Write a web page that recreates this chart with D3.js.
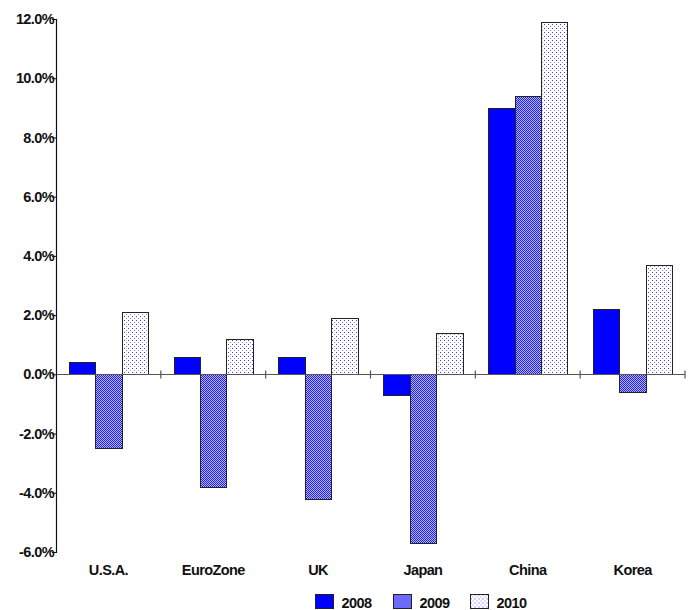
<!DOCTYPE html>
<html>
<head>
<meta charset="utf-8">
<script src="https://cdn.jsdelivr.net/npm/d3@7"></script>
<style>
  html, body { margin: 0; padding: 0; background: #fff; }
  svg text { font-family: "Liberation Sans", Arial, sans-serif; font-weight: bold; letter-spacing: -0.6px; fill: #111; }
</style>
</head>
<body>
<svg id="chart" width="699" height="610"></svg>
<script>
// GDP growth by economy, 2008–2010 (%)
const categories = ["U.S.A.", "EuroZone", "UK", "Japan", "China", "Korea"];
const years = ["2008", "2009", "2010"];
const growth2008 = [0.4, 0.6, 0.6, -0.7, 9.0, 2.2];
const growth2009 = [-2.5, -3.8, -4.2, -5.7, 9.4, -0.6];
const growth2010 = [2.1, 1.2, 1.9, 1.4, 11.9, 3.7];
const yTicks = [12, 10, 8, 6, 4, 2, 0, -2, -4, -6];

const series = [growth2008, growth2009, growth2010];
const rows = categories.map((c, i) => ({ cat: c, vals: years.map((y, j) => ({ year: y, v: series[j][i] })) }));

const svg = d3.select("#chart");
const left = 56, right = 685;

// patterns for the three series
const defs = svg.append("defs");
const p09 = defs.append("pattern").attr("id", "p2009").attr("patternUnits", "userSpaceOnUse")
  .attr("width", 2).attr("height", 2);
p09.append("rect").attr("width", 2).attr("height", 2).attr("fill", "#b4b4ff");
p09.append("rect").attr("width", 1).attr("height", 1).attr("fill", "#2020ff");
p09.append("rect").attr("x", 1).attr("y", 1).attr("width", 1).attr("height", 1).attr("fill", "#2020ff");

const p10 = defs.append("pattern").attr("id", "p2010").attr("patternUnits", "userSpaceOnUse")
  .attr("width", 4).attr("height", 4);
p10.append("rect").attr("width", 4).attr("height", 4).attr("fill", "#fff");
p10.append("rect").attr("x", 0).attr("y", 0).attr("width", 1).attr("height", 1).attr("fill", "#3a3aff");
p10.append("rect").attr("x", 2).attr("y", 2).attr("width", 1).attr("height", 1).attr("fill", "#8a8aff");

const fills = { "2008": "#0000ff", "2009": "url(#p2009)", "2010": "url(#p2010)" };

const x0 = d3.scaleBand().domain(categories).range([left, right]).paddingInner(0).paddingOuter(0);
const x1 = d3.scaleBand().domain(years).range([0, x0.bandwidth()]).paddingInner(0).paddingOuter(0.48);
const y = d3.scaleLinear().domain([-6, 12]).range([552, 19]);

// bars
const g = svg.append("g").attr("shape-rendering", "crispEdges");
const groups = g.selectAll("g.cat").data(rows).join("g").attr("class", "cat");

groups.selectAll("rect").data(d => d.vals.map(v => ({ ...v, cat: d.cat }))).join("rect")
  .attr("x", d => Math.round(x0(d.cat) + x1(d.year)) + 0.5)
  .attr("y", d => Math.round(y(Math.max(0, d.v))) + 0.5)
  .attr("width", d => Math.round(x0(d.cat) + x1(d.year) + x1.bandwidth()) - Math.round(x0(d.cat) + x1(d.year)))
  .attr("height", d => Math.abs(Math.round(y(d.v)) - Math.round(y(0))))
  .attr("fill", d => fills[d.year])
  .attr("stroke", "#222")
  .attr("stroke-width", 1);

// zero baseline with category separators
const y0 = Math.round(y(0)) + 0.5;
const base = svg.append("g").attr("transform", `translate(0,${y0})`);
base.append("line").attr("x1", left).attr("x2", right).attr("stroke", "#555").attr("stroke-width", 1.2);
base.selectAll("line.sep").data(categories).join("line")
  .attr("class", "sep")
  .attr("x1", d => x0(d) + x0.bandwidth())
  .attr("x2", d => x0(d) + x0.bandwidth())
  .attr("y1", -4).attr("y2", 4)
  .attr("stroke", "#555").attr("stroke-width", 1.2);

// y axis
const yAxis = d3.axisLeft(y).tickValues(yTicks).tickSize(4).tickFormat(d => d.toFixed(1) + "%");
const ya = svg.append("g").attr("transform", `translate(${left},0)`).call(yAxis);
ya.select(".domain").attr("stroke", "#111").attr("stroke-width", 1.2);
ya.selectAll(".tick line").attr("stroke", "#111");
ya.selectAll(".tick text").attr("x", -2).style("font-size", "14.5px").attr("fill", "#111");

// category labels
svg.append("g").selectAll("text").data(categories).join("text")
  .attr("x", d => x0(d) + x0.bandwidth() / 2)
  .attr("y", 575)
  .attr("text-anchor", "middle")
  .style("font-size", "14.5px")
  .text(d => d);

// legend
const legendX = [315, 393, 470];
const lg = svg.append("g").selectAll("g").data(years).join("g")
  .attr("transform", (d, i) => `translate(${legendX[i] + 0.5},594.5)`);
lg.append("rect").attr("width", 18).attr("height", 14).attr("shape-rendering", "crispEdges")
  .attr("fill", d => fills[d]).attr("stroke", "#222");
lg.append("text").attr("x", 26).attr("y", 13).style("font-size", "14.5px").text(d => d);
</script>
</body>
</html>
